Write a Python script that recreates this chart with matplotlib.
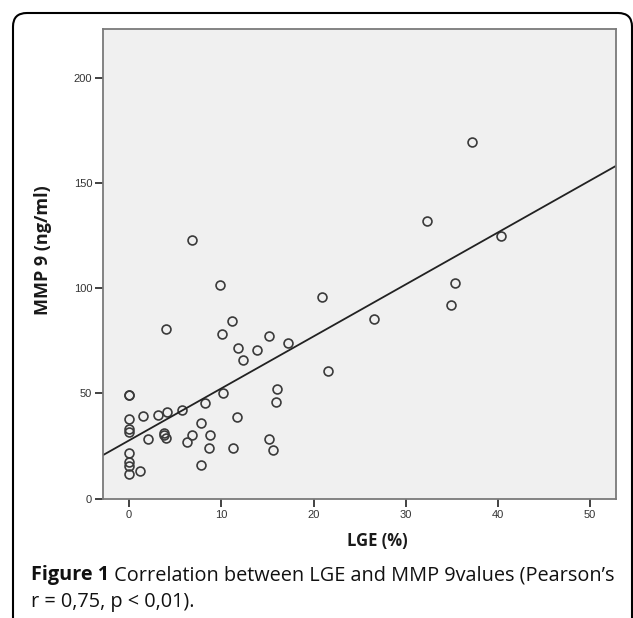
import matplotlib
matplotlib.use("Agg")
import matplotlib.pyplot as plt
from matplotlib.patches import FancyBboxPatch
import numpy as np

# ---- data ----
lge = [0, 0, 0, 0, 0, 0, 0, 0, 0,
       1.2, 1.5, 2.1, 3.1, 3.75, 3.75, 4.0, 4.0, 4.1, 5.7,
       6.25, 6.8, 6.85, 7.75, 7.8, 8.2, 8.8, 8.7, 9.9, 10.1,
       10.2, 11.2, 11.3, 11.7, 11.8, 12.4, 13.9, 15.2, 17.2, 15.2,
       15.6, 15.9, 16.0, 20.9, 21.6, 26.6, 32.3, 34.9, 35.3, 37.2,
       40.3]
mmp9 = [49.4, 49.4, 37.7, 33.1, 31.5, 21.5, 17.3, 15.7, 11.9,
        13.0, 39.5, 28.4, 39.8, 31.2, 30.3, 28.7, 80.8, 41.2, 42.2,
        27.1, 30.1, 123.0, 36.1, 16.2, 45.6, 30.1, 24.2, 101.6, 78.4,
        50.1, 84.6, 24.2, 38.7, 71.6, 65.9, 70.5, 77.5, 74.0, 28.4,
        23.3, 46.1, 52.1, 95.9, 60.5, 85.6, 132.0, 92.2, 102.4, 169.4,
        125.0]
fit_intercept = 27.7
fit_slope = 2.47
xticks = [0, 10, 20, 30, 40, 50]
yticks = [0, 50, 100, 150, 200]
xlim = (-2.8, 52.8)
ylim = (0, 223)

W, H = 633, 618
fig = plt.figure(figsize=(W / 100, H / 100), dpi=100)

# rounded frame around the figure
frame = FancyBboxPatch((13 / W, -0.2), (632 - 13) / W, 1.2 - 13 / H,
                       boxstyle="round,pad=0,rounding_size=0.022",
                       transform=fig.transFigure, fill=False,
                       edgecolor="black", linewidth=1.5)
fig.patches.append(frame)

left, right = 103.3 / W, 616 / W
top, bottom = 1 - 29.3 / H, 1 - 498.7 / H
ax = fig.add_axes([left, bottom, right - left, top - bottom])
ax.set_facecolor("#f0f0f0")

ax.plot(lge, mmp9, linestyle="none", marker="o", markersize=6.4,
        markerfacecolor="none", markeredgecolor="#3a3a3a", markeredgewidth=1.2)

xs = np.array(xlim)
ax.plot(xs, fit_intercept + fit_slope * xs, color="#222222", linewidth=1.3)

ax.set_xlim(*xlim)
ax.set_ylim(*ylim)
ax.set_xticks(xticks)
ax.set_yticks(yticks)
ax.tick_params(direction="out", length=6, width=1.3, color="#333333",
               labelsize=8, labelcolor="#333333", pad=2)
for lab in ax.get_xticklabels() + ax.get_yticklabels():
    lab.set_family("Liberation Sans")
for s in ax.spines.values():
    s.set_color("#7a7a7a")
    s.set_linewidth(1.3)

# axis labels
fig.text(43 / W, 1 - 250 / H, "MMP 9 (ng/ml)", rotation=90, ha="center",
         va="center", fontsize=13, fontweight="bold", family="Open Sans",
         color="#1a1a1a")
fig.text(377 / W, 1 - 541 / H, "LGE (%)", ha="center", va="center",
         fontsize=12, fontweight="bold", family="Open Sans", color="#1a1a1a")

# caption
cap_size = 14.3
t1 = fig.text(31 / W, 1 - 580 / H, "Figure 1", ha="left", va="baseline",
              fontsize=cap_size, fontweight="bold", family="Open Sans",
              color="#111111")
ax.annotate(" Correlation between LGE and MMP 9values (Pearson\u2019s",
            xy=(1, 0), xycoords=t1, ha="left", va="bottom",
            fontsize=cap_size, family="Open Sans", color="#111111",
            annotation_clip=False)
fig.text(31 / W, 1 - 607 / H, "r = 0,75, p < 0,01).", ha="left", va="baseline",
         fontsize=cap_size, family="Open Sans", color="#111111")

fig.savefig("out.png", dpi=100)
